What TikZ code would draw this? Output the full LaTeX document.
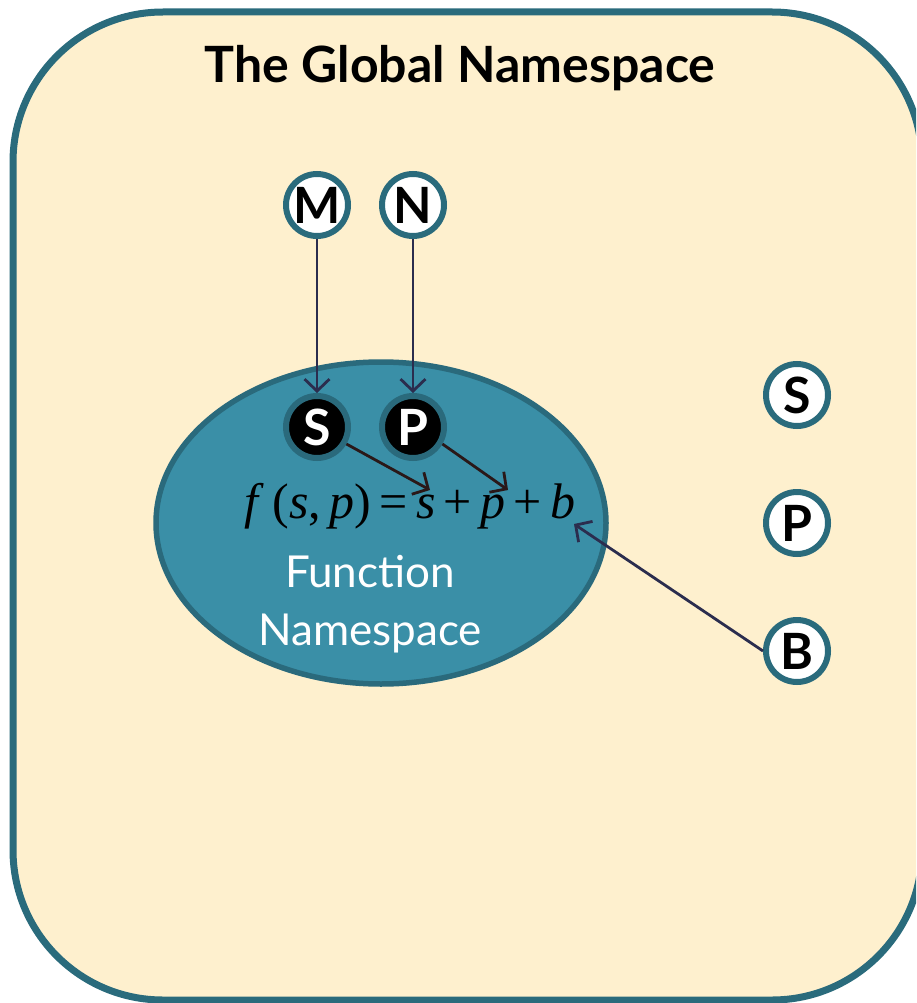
\documentclass[tikz,border=0pt]{standalone}
\usepackage{fontspec}
\setmainfont{Lato}
\newfontfamily\formfont{Liberation Serif}
\usetikzlibrary{arrows.meta,shapes.geometric}
\definecolor{cream}{HTML}{FEF0CE}
\definecolor{tealline}{HTML}{2A6B7C}
\definecolor{ellfill}{HTML}{3A8FA7}
\definecolor{ellline}{HTML}{2A6A7C}
\definecolor{navy}{HTML}{2B2D4E}
\definecolor{darkbrown}{HTML}{2A1818}
\begin{document}
\begin{tikzpicture}[x=1pt,y=-1pt,
  gvar/.style={circle, draw=tealline, line width=6pt, fill=white, minimum size=62pt, inner sep=0pt, font=\fontsize{50}{50}\selectfont\bfseries},
  fvar/.style={circle, draw=ellline, line width=6pt, fill=black, text=white, minimum size=62pt, inner sep=0pt, font=\fontsize{50}{50}\selectfont\bfseries},
  link/.style={draw=navy, line width=2.8pt, -{Straight Barb[length=12pt,width=25pt,line width=2.8pt]}},
  blink/.style={draw=darkbrown, line width=2.8pt, -{Straight Barb[length=12pt,width=25pt,line width=2.8pt]}}]
\useasboundingbox (0,0) rectangle (916,1003);
\clip (0,0) rectangle (916,1003);
\fill[white] (0,0) rectangle (916,1003);
\draw[tealline, line width=7pt, fill=cream, rounded corners=150pt] (13,12) rectangle (922,1000);
\node[font=\fontsize{50}{50}\selectfont\bfseries, anchor=base] (title) at (460,83) {The Global Namespace};
\node[ellipse, draw=ellline, line width=5.5pt, fill=ellfill, minimum width=450pt, minimum height=322pt, inner sep=0pt] (fns) at (381,523) {};
\node[gvar] (M) at (317,205) {M};
\node[gvar] (N) at (413,205) {N};
\node[fvar] (S) at (317,427) {S};
\node[fvar] (P) at (413,427) {P};
\node[gvar] (GS) at (797,395) {S};
\node[gvar] (GP) at (797,523) {P};
\node[gvar] (B) at (797,651) {B};
\node[font=\formfont\fontsize{50}{50}\selectfont, anchor=base, inner sep=0pt] (form) at (410,518) {\textit{f}\,(\textit{s},\,\textit{p})\,=\,\textit{s}\,+\,\textit{p}\,+\,\textit{b}};
\node[font=\fontsize{44}{58}\selectfont, text=white, align=center, anchor=base] (fname) at (370,645) {Function\\Namespace};
\coordinate (ts) at (430,490);
\coordinate (tp) at (508,490);
\coordinate (tb) at (574,524);
\draw[link] (M) -- (S);
\draw[link] (N) -- (P);
\draw[blink] (S.-30) -- (ts);
\draw[blink] (P.-30) -- (tp);
\draw[link] (B.west) -- (tb);
\end{tikzpicture}
\end{document}
